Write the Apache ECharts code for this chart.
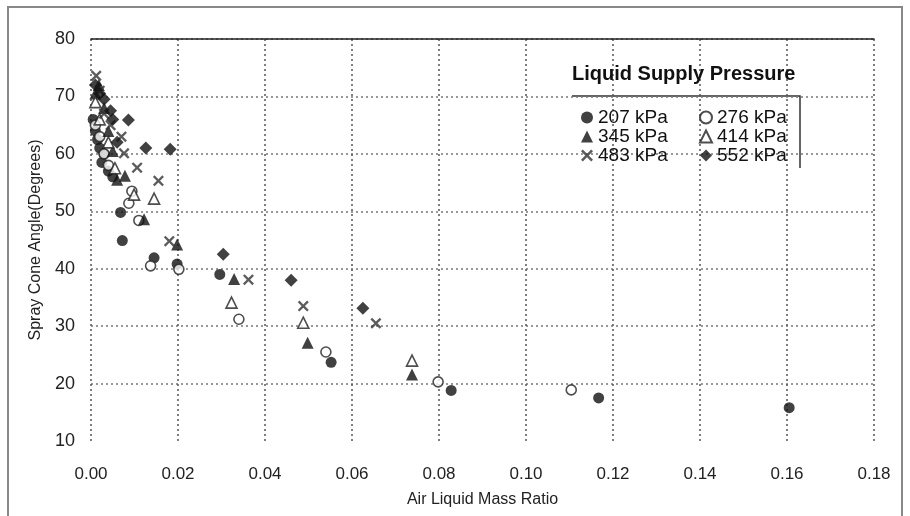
<!DOCTYPE html>
<html>
<head>
<meta charset="utf-8">
<script src="https://cdn.jsdelivr.net/npm/echarts@6/dist/echarts.min.js"></script>
<style>
  html, body { margin: 0; padding: 0; background: #fff; }
  #chart { width: 910px; height: 516px; }
</style>
</head>
<body>
<div id="chart"></div>
<script>
// 读图估计的数据 [空气/液体质量比, 喷雾锥角]
const p207 = [[0.0005, 66], [0.001, 64], [0.0015, 62.5], [0.002, 61], [0.0025, 58.5], [0.003, 60], [0.004, 57], [0.005, 56],
  [0.0068, 49.8], [0.0072, 44.9], [0.0145, 41.9], [0.0198, 40.8], [0.0296, 39.0], [0.0552, 23.7], [0.0828, 18.8], [0.1167, 17.5], [0.1605, 15.8]]
const p276 = [[0.001, 65], [0.002, 63], [0.003, 60], [0.004, 58], [0.0087, 51.4], [0.0094, 53.5], [0.011, 48.4], [0.0137, 40.5],
  [0.0202, 39.9], [0.034, 31.2], [0.054, 25.5], [0.0798, 20.3], [0.1104, 18.9]]
const p345 = [[0.001, 70.5], [0.0018, 72], [0.003, 68], [0.004, 64], [0.005, 60.5], [0.006, 55.5], [0.0078, 56.2], [0.0122, 48.6],
  [0.0198, 44.2], [0.0329, 38.2], [0.0498, 27.1], [0.0738, 21.6]]
const p414 = [[0.001, 69], [0.002, 66], [0.004, 62], [0.0055, 57.5], [0.0099, 52.9], [0.0145, 52.2], [0.0323, 34.1], [0.0488, 30.6], [0.0738, 24]]
const p483 = [[0.0012, 73.6], [0.002, 71], [0.003, 67], [0.0045, 65], [0.007, 63], [0.0076, 60.1], [0.0106, 57.6], [0.0155, 55.3],
  [0.018, 44.8], [0.0362, 38.1], [0.0488, 33.5], [0.0655, 30.5]]
const p552 = [[0.001, 72], [0.002, 70.5], [0.003, 69.5], [0.0045, 67.5], [0.005, 66], [0.006, 62], [0.0086, 65.9], [0.0126, 61],
  [0.0182, 60.8], [0.0304, 42.5], [0.046, 38.0], [0.0625, 33.1]]

const names = ['207 kPa', '276 kPa', '345 kPa', '414 kPa', '483 kPa', '552 kPa']
const xTicks = { min: 0, max: 0.18, step: 0.02 }
const yTicks = { min: 10, max: 80, step: 10 }

const FONT = 'Liberation Sans, Arial, sans-serif'
// 星形叉号
const crossPath = 'path://M0,1.5L1.5,0L5,3.5L8.5,0L10,1.5L6.5,5L10,8.5L8.5,10L5,6.5L1.5,10L0,8.5L3.5,5Z'

const mk = (name, data, symbol, size, style) => ({
  name,
  type: 'scatter',
  data,
  symbol,
  symbolSize: size,
  itemStyle: style
})

const filled = { color: '#111' }
const hollow = { color: '#fff', borderColor: '#222', borderWidth: 1.6 }

const legendBase = {
  orient: 'vertical', top: 103, itemGap: 0, itemWidth: 12, itemHeight: 12,
  textStyle: { fontSize: 19, color: '#111' }
}

const myChart = echarts.init(document.getElementById('chart'))
myChart.setOption({
  animation: false,
  textStyle: { fontFamily: FONT },
  graphic: [
    { type: 'rect', shape: { x: 8, y: 7, width: 894, height: 530 }, style: { fill: 'none', stroke: '#888', lineWidth: 2 } },
    { type: 'polyline', shape: { points: [[572, 96], [800, 96], [800, 168]] }, style: { stroke: '#333', lineWidth: 1.5, fill: 'none' } }
  ],
  title: {
    text: 'Liquid Supply Pressure',
    left: 567,
    top: 59,
    textStyle: { fontSize: 20, fontWeight: 'bold', color: '#111', fontFamily: FONT }
  },
  legend: [
    Object.assign({ data: [names[0], names[2], names[4]], left: 576 }, legendBase),
    Object.assign({ data: [names[1], names[3], names[5]], left: 694 }, legendBase)
  ],
  grid: { left: 91, right: 36, top: 39, bottom: 75 },
  xAxis: [
    {
      type: 'value', min: xTicks.min, max: xTicks.max, interval: xTicks.step,
      name: 'Air Liquid Mass Ratio', nameLocation: 'middle', nameGap: 51,
      nameTextStyle: { fontSize: 16, color: '#222' },
      axisLine: { show: false }, axisTick: { show: false },
      axisLabel: { fontSize: 17, color: '#222', margin: 25, formatter: v => v.toFixed(2) },
      splitLine: { show: true, lineStyle: { type: [2, 3], color: '#555', width: 1.5 } }
    },
    {
      type: 'value', min: xTicks.min, max: xTicks.max, interval: xTicks.step, position: 'top',
      axisLine: { show: true, lineStyle: { color: '#222', width: 1.5 } },
      axisTick: { show: false }, axisLabel: { show: false }, splitLine: { show: false }
    }
  ],
  yAxis: {
    type: 'value', min: yTicks.min, max: yTicks.max, interval: yTicks.step,
    name: 'Spray Cone Angle(Degrees)', nameLocation: 'middle', nameGap: 44,
    nameTextStyle: { fontSize: 16, color: '#222' },
    axisLine: { show: false }, axisTick: { show: false },
    axisLabel: { fontSize: 18, color: '#222', margin: 16 },
    splitLine: { show: true, showMinLine: false, lineStyle: { type: [2, 3], color: '#777', width: 1.5 } }
  },
  series: [
    mk(names[0], p207, 'circle', 11, filled),
    mk(names[1], p276, 'circle', 10, hollow),
    mk(names[2], p345, 'triangle', 12, filled),
    mk(names[3], p414, 'triangle', 11, hollow),
    mk(names[4], p483, crossPath, 11, { color: '#333' }),
    mk(names[5], p552, 'diamond', 13, filled)
  ]
})
</script>
</body>
</html>
